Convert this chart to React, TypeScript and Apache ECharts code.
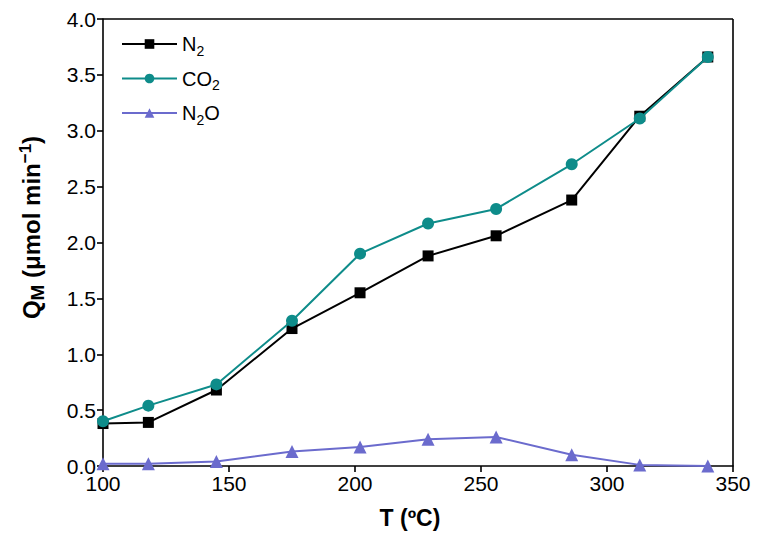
import React, { useEffect, useRef } from "react";
import * as echarts from "echarts";

const temps = [100, 118, 145, 175, 202, 229, 256, 286, 313, 340];
const n2 = [0.38, 0.39, 0.68, 1.23, 1.55, 1.88, 2.06, 2.38, 3.13, 3.66];
const co2 = [0.4, 0.54, 0.73, 1.3, 1.9, 2.17, 2.3, 2.7, 3.11, 3.66];
const n2o = [0.02, 0.02, 0.04, 0.13, 0.17, 0.24, 0.26, 0.1, 0.01, 0.0];
const xTicks = [100, 150, 200, 250, 300, 350];
const yTicks = [0, 0.5, 1, 1.5, 2, 2.5, 3, 3.5, 4];

const legendLabels: Record<string, string> = {
  N2: "{t|N}{s|2}",
  CO2: "{t|CO}{s|2}",
  N2O: "{t|N}{s|2}{t|O}",
};

const FONT = "Liberation Sans, Arial, sans-serif";

export default function App() {
  const ref = useRef<HTMLDivElement>(null);
  useEffect(() => {
    if (!ref.current) return;
    const chart = echarts.init(ref.current, null, { renderer: "svg" });
    const pair = (ys: number[]) => temps.map((t, i) => [t, ys[i]]);
    const xMax = xTicks[xTicks.length - 1];
    const yMax = yTicks[yTicks.length - 1];
    chart.setOption({
      animation: false,
      backgroundColor: "#fff",
      grid: { left: 103, right: 27, top: 19, bottom: 78, containLabel: false },
      legend: {
        orient: "vertical",
        left: 116,
        top: 29,
        itemWidth: 55,
        itemHeight: 12,
        itemGap: 11,
        data: ["N2", "CO2", "N2O"],
        formatter: (name: string) => legendLabels[name],
        textStyle: {
          fontFamily: FONT,
          rich: {
            t: { fontSize: 20, color: "#000", fontFamily: FONT },
            s: { fontSize: 14, color: "#000", fontFamily: FONT, padding: [13, 0, 0, 0] },
          },
        },
      },
      xAxis: {
        type: "value",
        min: 100,
        max: xMax,
        interval: 50,
        name: "T (ºC)",
        nameLocation: "middle",
        nameGap: 40,
        nameTextStyle: { fontFamily: FONT, fontSize: 23, fontWeight: "bold", color: "#000", padding: [0, 16, 0, 0] },
        axisLine: { show: true, onZero: false, lineStyle: { color: "#000", width: 1.6 } },
        axisTick: { show: true, inside: false, length: 6, lineStyle: { color: "#000", width: 1.6 } },
        axisLabel: { fontFamily: FONT, fontSize: 21, color: "#000", margin: 7 },
        splitLine: { show: false },
      },
      yAxis: {
        type: "value",
        min: 0,
        max: yMax,
        interval: 0.5,
        name: "{b|Q}{sub|M}{b| (μmol min}{sup|−1}{b|)}",
        nameLocation: "middle",
        nameGap: 56,
        nameTextStyle: {
          fontFamily: FONT,
          color: "#000",
          padding: [0, 0, 0, 30],
          rich: {
            b: { fontSize: 24, fontWeight: "bold", fontFamily: FONT, color: "#000" },
            sub: { fontSize: 19, fontWeight: "bold", fontFamily: FONT, color: "#000", padding: [12, 0, 0, 0] },
            sup: { fontSize: 17, fontWeight: "bold", fontFamily: FONT, color: "#000", padding: [0, 0, 12, 0] },
          },
        },
        axisLine: { show: true, lineStyle: { color: "#000", width: 1.6 } },
        axisTick: { show: true, inside: false, length: 6, lineStyle: { color: "#000", width: 1.6 } },
        axisLabel: {
          fontFamily: FONT,
          fontSize: 21,
          color: "#000",
          margin: 7,
          formatter: (v: number) => v.toFixed(1),
        },
        splitLine: { show: false },
      },
      series: [
        {
          name: "N2",
          type: "line",
          data: pair(n2),
          symbol: "rect",
          symbolSize: 11,
          color: "#000",
          lineStyle: { color: "#000", width: 2 },
          itemStyle: { color: "#000" },
          z: 3,
        },
        {
          name: "CO2",
          type: "line",
          data: pair(co2),
          symbol: "circle",
          symbolSize: 12,
          color: "#0e8c8a",
          lineStyle: { color: "#0e8c8a", width: 2 },
          itemStyle: { color: "#0e8c8a" },
          z: 4,
        },
        {
          name: "N2O",
          type: "line",
          data: pair(n2o),
          symbol: "triangle",
          symbolSize: 13,
          color: "#6b6bcd",
          lineStyle: { color: "#6b6bcd", width: 2 },
          itemStyle: { color: "#6b6bcd" },
          z: 5,
        },
        {
          name: "frame",
          type: "line",
          data: [],
          markLine: {
            silent: true,
            symbol: "none",
            label: { show: false },
            lineStyle: { color: "#000", width: 1.6, type: "solid" },
            data: [
              [{ coord: [100, yMax] }, { coord: [xMax, yMax] }],
              [{ coord: [xMax, 0] }, { coord: [xMax, yMax] }],
            ],
          },
        },
      ],
    });
    return () => chart.dispose();
  }, []);
  return <div ref={ref} style={{ width: 760, height: 544, position: "absolute", left: 0, top: 0 }} />;
}
